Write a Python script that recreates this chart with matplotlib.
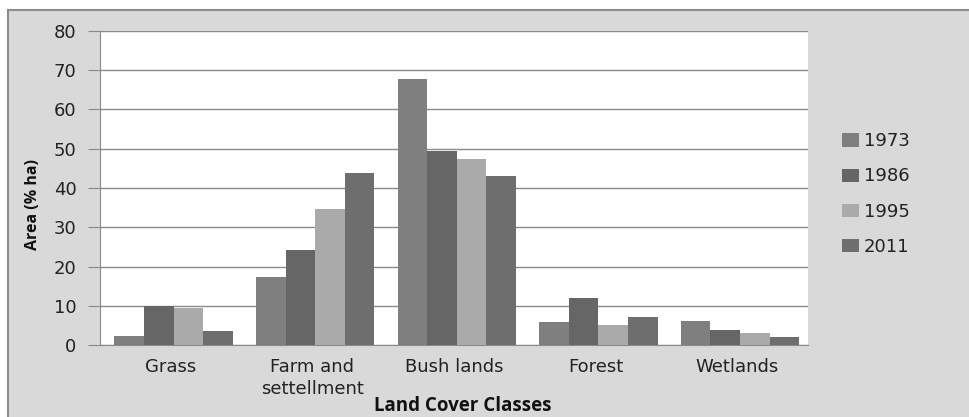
import numpy as np
import matplotlib
matplotlib.use("Agg")
import matplotlib.pyplot as plt
from matplotlib.patches import Rectangle

classes = ["Grass", "Farm and\nsettellment", "Bush lands", "Forest", "Wetlands"]
years = ["1973", "1986", "1995", "2011"]
area_1973 = [2.3, 17.4, 67.8, 5.8, 6.0]
area_1986 = [9.9, 24.2, 49.3, 12.1, 3.9]
area_1995 = [9.5, 34.6, 47.3, 5.1, 3.0]
area_2011 = [3.6, 43.7, 43.1, 7.1, 2.0]
colors = ["#7f7f7f", "#666666", "#aaaaaa", "#6e6e6e"]

series = [area_1973, area_1986, area_1995, area_2011]

fig = plt.figure(figsize=(9.69, 4.17), dpi=100)
fig.patch.set_facecolor("white")
# grey chart frame, kept behind the axes
frame = Rectangle((8 / 969, -0.05), 1.0, 1 - 10 / 417 + 0.05,
                  transform=fig.transFigure, facecolor="#d9d9d9",
                  edgecolor="#8c8c8c", linewidth=1.5, zorder=-10)
fig.patches.append(frame)

ax = fig.add_axes([100 / 969, 1 - 345 / 417, 708 / 969, 314 / 417])
ax.set_zorder(1)
ax.set_facecolor("white")

x = np.arange(len(classes))
w = 0.209
for i, vals in enumerate(series):
    ax.bar(x + (i - 1.5) * w + 0.02, vals, w, color=colors[i], label=years[i],
           zorder=3)

ax.set_xlim(-0.5, len(classes) - 0.5)
ax.set_ylim(0, 80)
ax.set_yticks(range(0, 81, 10))
ax.yaxis.grid(True, color="#8a8a8a", linewidth=1.0, zorder=0)
ax.set_axisbelow(True)
for s in ["top", "right"]:
    ax.spines[s].set_visible(False)
ax.spines["left"].set_color("#8a8a8a")
ax.spines["bottom"].set_color("#8a8a8a")
ax.tick_params(axis="y", length=9, color="#8a8a8a", labelsize=13, pad=8,
               labelcolor="#222222")
ax.tick_params(axis="x", length=0, labelsize=13, pad=9, labelcolor="#222222")
ax.set_xticks(x)
ax.set_xticklabels(classes, fontfamily="DejaVu Sans", linespacing=1.3)
for lbl in ax.get_yticklabels():
    lbl.set_fontfamily("DejaVu Sans")

fig.text(463 / 969, 1 - 406 / 417, "Land Cover Classes", ha="center", va="center",
         fontsize=13.5, fontweight="bold", fontfamily="Open Sans", color="#111111")
fig.text(33 / 969, 1 - 204 / 417, "Area (% ha)", ha="center", va="center",
         rotation=90, fontsize=11.5, fontweight="bold", fontfamily="Open Sans",
         color="#111111")

leg = fig.legend(loc="center left", bbox_to_anchor=(826 / 969, 1 - 194 / 417),
                 frameon=False, handlelength=0.9, handleheight=0.75,
                 handletextpad=0.3, labelspacing=0.95,
                 prop={"family": "DejaVu Sans", "size": 13})
for t in leg.get_texts():
    t.set_color("#222222")

fig.savefig("out.png", dpi=100, facecolor=fig.get_facecolor())
